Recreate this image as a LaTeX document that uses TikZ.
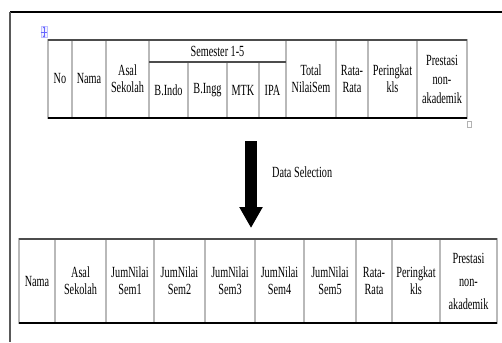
\documentclass[tikz,border=0pt]{standalone}
\usepackage{fontspec}
\setmainfont{Liberation Serif}
\newfontfamily\narrowserif[FakeStretch=0.66]{Liberation Serif}
\usetikzlibrary{arrows.meta,positioning}

\begin{document}
\begin{tikzpicture}
		[x=1pt,y=-1pt,
		cell/.style={shape=rectangle,draw=gray!55,line width=1.2pt,anchor=north west,
			inner sep=0pt,outer sep=0pt,align=center,
			font=\narrowserif\fontsize{15.5}{17}\selectfont},
		rule top/.style={draw=black!70,line width=1.3pt},
		rule bottom/.style={draw=black,line width=1.6pt}
		]
		
		\useasboundingbox (0,0) rectangle (502,342);
		
		\draw[black,line width=2.2pt] (10,12) -- (502,12);
		\draw[black!65,line width=1.4pt] (10,12) -- (10,342);
		
		\node [cell][minimum width=24,minimum height=78] (no) at (48,40) {No};
		\node [cell][minimum width=34,minimum height=78] (nama) at (no.north east) {Nama};
		\node [cell][minimum width=43,minimum height=78] (asal) at (nama.north east) {Asal\\Sekolah};
		\node [cell][minimum width=137,minimum height=22] (sem) at (asal.north east) {Semester 1-5};
		\node [cell][minimum width=39,minimum height=56] (indo) at (sem.south west) {B.Indo};
		\node [cell][minimum width=39,minimum height=56] (ingg) at (indo.north east) {B.Ingg};
		\node [cell][minimum width=32,minimum height=56] (mtk) at (ingg.north east) {MTK};
		\node [cell][minimum width=27,minimum height=56] (ipa) at (mtk.north east) {IPA};
		\node [cell][minimum width=50,minimum height=78] (total) at (sem.north east) {Total\\NilaiSem};
		\node [cell][minimum width=32,minimum height=78] (rata) at (total.north east) {Rata-\\Rata};
		\node [cell][minimum width=49,minimum height=78] (rank) at (rata.north east) {Peringkat\\kls};
		\node [cell][minimum width=50,minimum height=78] (prestasi) at (rank.north east) {Prestasi\\[2pt]non-\\[2pt]akademik};
		
		\draw[rule top] (no.north west) -- (prestasi.north east);
		\draw[rule top] (sem.south west) -- (sem.south east);
		\draw[rule bottom] (no.south west) -- (prestasi.south east);
		
		\node [draw=blue!25,fill=blue!5,line width=0.6pt,minimum width=6,minimum height=11,inner sep=0pt] (handle) at (44,32) {};
		\draw[blue!60,line width=0.7pt,{Latex[length=2pt,width=3pt]}-{Latex[length=2pt,width=3pt]}] (handle.north) -- (handle.south);
		\draw[blue!60,line width=0.7pt] (handle.west) -- (handle.east);
		\node [draw=gray!60,line width=0.6pt,anchor=north west,minimum width=4,minimum height=6,inner sep=0pt] (grip) at (467,121) {};
		
		\coordinate (sel top) at (251,141);
		\coordinate (sel tip) at (251,228);
		\draw[line width=12pt,-{Triangle[width=22pt,length=21pt]}] (sel top) -- (sel tip);
		\node [anchor=west,inner sep=0pt,font=\narrowserif\fontsize{15.5}{17}\selectfont] (sel) at (272,172) {Data Selection};
		
		\node [cell][minimum width=36,minimum height=84] (nama2) at (19,239) {Nama};
		\node [cell][minimum width=51,minimum height=84] (asal2) at (nama2.north east) {Asal\\Sekolah};
		\node [cell][minimum width=48,minimum height=84] (jum1) at (asal2.north east) {JumNilai\\Sem1};
		\node [cell][minimum width=51,minimum height=84] (jum2) at (jum1.north east) {JumNilai\\Sem2};
		\node [cell][minimum width=50,minimum height=84] (jum3) at (jum2.north east) {JumNilai\\Sem3};
		\node [cell][minimum width=49,minimum height=84] (jum4) at (jum3.north east) {JumNilai\\Sem4};
		\node [cell][minimum width=52,minimum height=84] (jum5) at (jum4.north east) {JumNilai\\Sem5};
		\node [cell][minimum width=36,minimum height=84] (rata2) at (jum5.north east) {Rata-\\Rata};
		\node [cell][minimum width=48,minimum height=84] (rank2) at (rata2.north east) {Peringkat\\kls};
		\node [cell][minimum width=57,minimum height=84] (prestasi2) at (rank2.north east) {Prestasi\\[6pt]non-\\[6pt]akademik};
		
		\draw[rule top] (nama2.north west) -- (prestasi2.north east);
		\draw[rule bottom] (nama2.south west) -- (prestasi2.south east);
		
		\end{tikzpicture}
\end{document}
